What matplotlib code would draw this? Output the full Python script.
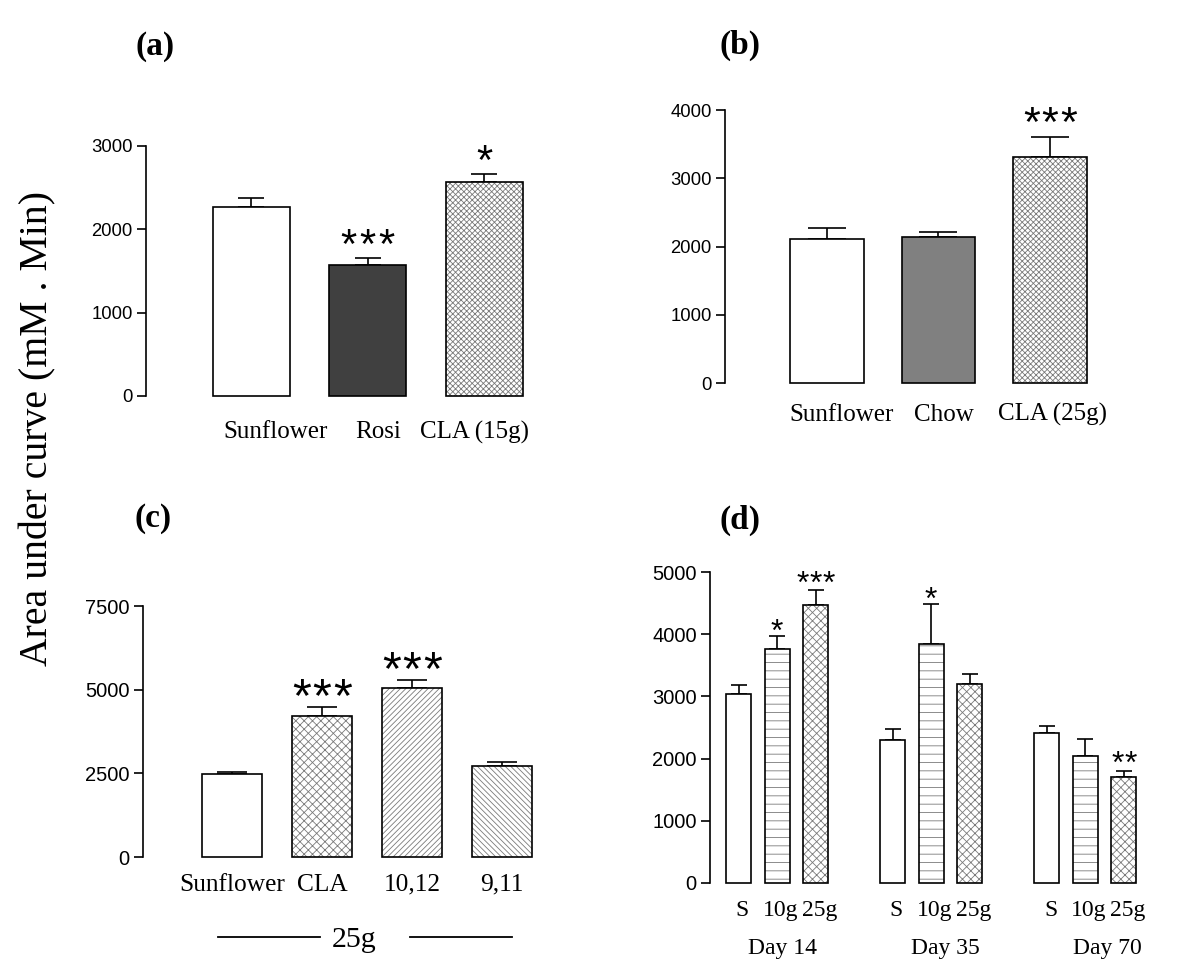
import matplotlib
matplotlib.use('Agg')
import matplotlib.pyplot as plt
from matplotlib.lines import Line2D
import numpy as np

# ---------------- data ----------------
a_groups = ['Sunflower', 'Rosi', 'CLA (15g)']
a_means = [2270, 1570, 2570]
a_sem = [110, 85, 95]
a_sig = ['', '***', '*']
a_yticks = [0, 1000, 2000, 3000]

b_groups = ['Sunflower', 'Chow', 'CLA (25g)']
b_means = [2110, 2140, 3310]
b_sem = [160, 75, 295]
b_sig = ['', '', '***']
b_yticks = [0, 1000, 2000, 3000, 4000]

c_groups = ['Sunflower', 'CLA', '10,12', '9,11']
c_means = [2480, 4210, 5050, 2720]
c_sem = [60, 270, 240, 120]
c_sig = ['', '***', '***', '']
c_yticks = [0, 2500, 5000, 7500]
c_dose = '25g'

d_days = ['Day 14', 'Day 35', 'Day 70']
d_diets = ['S', '10g', '25g']
d_S_means = [3040, 2300, 2405]
d_S_sem = [140, 180, 120]
d_10g_means = [3770, 3840, 2035]
d_10g_sem = [200, 650, 275]
d_25g_means = [4475, 3195, 1705]
d_25g_sem = [230, 165, 95]
d_S_sig = ['', '', '']
d_10g_sig = ['*', '*', '']
d_25g_sig = ['***', '', '**']
d_yticks = [0, 1000, 2000, 3000, 4000, 5000]

ylabel = 'Area under curve (mM . Min)'
panel_labels = ['(a)', '(b)', '(c)', '(d)']

# ---------------- styling ----------------
plt.rcParams['hatch.linewidth'] = 0.6
HATCH_COLOR = '#7a7a7a'
SANS = 'Liberation Sans'
SERIF = 'Liberation Serif'

W, H = 1200, 971
fig = plt.figure(figsize=(W / 100, H / 100), dpi=100)


def add_ax(x0, x1, ytop, ybot):
    return fig.add_axes([x0 / W, 1 - ybot / H, (x1 - x0) / W, (ybot - ytop) / H])


def style(ax, yticks, fs, xlim):
    for s in ['top', 'right', 'bottom']:
        ax.spines[s].set_visible(False)
    ax.spines['left'].set_linewidth(1.2)
    ax.set_ylim(yticks[0], yticks[-1])
    ax.set_xlim(*xlim)
    ax.set_yticks(yticks)
    ax.tick_params(axis='y', length=6.5, width=1.2, pad=3, labelsize=fs)
    ax.set_xticks([])
    for lab in ax.get_yticklabels():
        lab.set_fontfamily(SANS)
    ax.patch.set_visible(False)


def draw_bars(ax, x, means, sems, width, faces, hatches, capsize, lw=1.2):
    ax.errorbar(x, means, yerr=[np.zeros(len(means)), sems], fmt='none',
                ecolor='black', elinewidth=lw, capsize=capsize, capthick=lw,
                zorder=1, clip_on=False)
    bars = ax.bar(x, means, width, color=faces, edgecolor=HATCH_COLOR,
                  linewidth=0, zorder=2, clip_on=False)
    for b, h in zip(bars, hatches):
        if h:
            b.set_hatch(h)
    ax.bar(x, means, width, fill=False, edgecolor='black', linewidth=lw,
           zorder=3, clip_on=False)


def stars(ax, x, means, sems, sig, fs, dy_pt, period_pt):
    # each asterisk drawn separately so the spacing matches the original
    for xi, m, e, s in zip(x, means, sems, sig):
        n = len(s)
        for i, ch in enumerate(s):
            dx = (i - (n - 1) / 2) * period_pt
            ax.annotate(ch, (xi, m + e), xytext=(dx, dy_pt), textcoords='offset points',
                        ha='center', va='baseline', fontsize=fs, family=SANS,
                        annotation_clip=False)


def cat_labels(ax, x, labels, fs, dy_pt):
    for xi, l in zip(x, labels):
        ax.annotate(l, (xi, 0), xycoords=('data', 'axes fraction'),
                    xytext=(0, -dy_pt), textcoords='offset points',
                    ha='center', va='center', fontsize=fs, family=SERIF,
                    annotation_clip=False)


# ---------------- panel (a) ----------------
axa = add_ax(146, 540, 146, 396)
xa = np.arange(len(a_groups))
style(axa, a_yticks, 13.3, (-0.906, 2.48))
draw_bars(axa, xa, a_means, a_sem, 0.66, ['white', '#404040', 'white'],
          ['', '', 'xxxxxx'], 9.7)
stars(axa, xa, a_means, a_sem, a_sig, 30, 0, 13.7)
cat_labels(axa, xa + np.array([0.21, 0.09, -0.08]), a_groups, 18, 26)

# ---------------- panel (b) ----------------
axb = add_ax(725, 1110, 110, 383)
xb = np.arange(len(b_groups))
style(axb, b_yticks, 13.3, (-0.915, 2.54))
draw_bars(axb, xb, b_means, b_sem, 0.66, ['white', '#808080', 'white'],
          ['', '', 'xxxxxx'], 13.7)
stars(axb, xb, b_means, b_sem, b_sig, 31, 0.7, 13.3)
cat_labels(axb, xb + np.array([0.13, 0.05, 0.02]), b_groups, 18, 23)

# ---------------- panel (c) ----------------
axc = add_ax(143, 545, 606, 857)
xc = np.arange(len(c_groups))
style(axc, c_yticks, 14.5, (-0.99, 3.48))
draw_bars(axc, xc, c_means, c_sem, 0.667, ['white'] * 4,
          ['', 'xxxx', '//////', '\\\\\\\\\\\\'], 10.8)
stars(axc, xc, c_means, c_sem, c_sig, 35, -2.9, 14.8)
cat_labels(axc, xc, c_groups, 18.3, 20)
fig.add_artist(Line2D([218 / W, 320 / W], [1 - 937 / H] * 2, color='black', lw=1.3))
fig.add_artist(Line2D([410 / W, 512 / W], [1 - 937 / H] * 2, color='black', lw=1.3))
fig.text(354 / W, 1 - 940 / H, c_dose, ha='center', va='center', fontsize=21.5,
         family=SERIF)

# ---------------- panel (d) ----------------
axd = add_ax(710, 1150, 572, 883)
style(axd, d_yticks, 14.5, (-0.74, 10.68))
group_pos = np.arange(len(d_days)) * 4
series = [
    (d_S_means, d_S_sem, d_S_sig, 'white', ''),
    (d_10g_means, d_10g_sem, d_10g_sig, 'white', '--'),
    (d_25g_means, d_25g_sem, d_25g_sig, 'white', 'xxxx'),
]
for k, (m, e, sg, fc, hh) in enumerate(series):
    xd = group_pos + k
    draw_bars(axd, xd, m, e, 0.65, [fc] * len(m), [hh] * len(m), 5.7)
    stars(axd, xd, m, e, sg, 23, -1.5 if k == 2 else -3.5, 9.4)
    cat_labels(axd, xd + 0.1, [d_diets[k]] * len(m), 17, 19.5)
cat_labels(axd, group_pos + 1 + np.array([0.14, 0.36, 0.57]), d_days, 17, 47)

# ---------------- shared text ----------------
fig.text(38 / W, 1 - 428 / H, ylabel, rotation=90, ha='center', va='center',
         fontsize=28.6, family=SERIF)
for lab, (px, py) in zip(panel_labels, [(155, 47), (740, 45), (153, 519), (740, 520)]):
    fig.text(px / W, 1 - py / H, lab, ha='center', va='center', fontsize=24,
             fontweight='bold', family=SERIF)

fig.savefig('out.png', dpi=100)
